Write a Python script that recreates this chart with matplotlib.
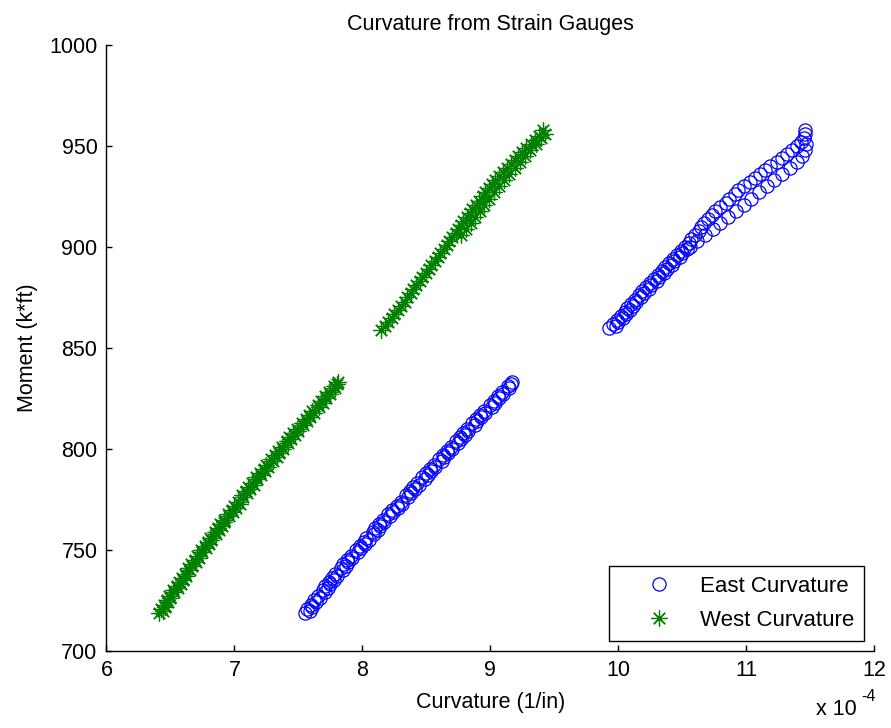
import numpy as np
import matplotlib
matplotlib.use("Agg")
import matplotlib.pyplot as plt

plt.rcParams["font.family"] = ["Liberation Sans", "DejaVu Sans"]

# curvature values are in units of 1e-4 (1/in), moments in k*ft

#----East gauge, first loading----
east_m1 = [719, 721, 723, 725, 727, 730, 732, 734, 736, 738, 741, 743, 745, 747, 750, 752, 754, 756,
           759, 761, 763, 765, 768, 770, 772, 774, 777, 779, 781, 783, 786, 788, 790, 792, 795, 797,
           799, 801, 804, 806, 808, 810, 813, 815, 817, 819, 822, 824, 826, 828, 831, 833]
east_k1 = [7.55, 7.57, 7.60, 7.62, 7.65, 7.69, 7.71, 7.74, 7.76, 7.79, 7.83, 7.85, 7.88, 7.91, 7.95, 7.98, 8.01, 8.03,
           8.08, 8.10, 8.13, 8.16, 8.20, 8.23, 8.27, 8.30, 8.34, 8.37, 8.40, 8.43, 8.47, 8.50, 8.53, 8.56, 8.60, 8.63,
           8.66, 8.69, 8.73, 8.76, 8.79, 8.82, 8.86, 8.89, 8.92, 8.95, 9.00, 9.03, 9.06, 9.09, 9.14, 9.17]
# second set of readings over the same range
east_m1r = [720, 722, 724, 726, 729, 731, 733, 735, 737, 740, 742, 744, 746, 749, 751, 753, 755, 758, 760,
            762, 764, 767, 769, 771, 773, 776, 778, 780, 782, 785, 787, 789, 791, 794, 796, 798, 800, 803,
            805, 807, 809, 812, 814, 816, 818, 821, 823, 825, 827, 830, 832]
east_k1r = [7.59, 7.61, 7.64, 7.67, 7.71, 7.73, 7.75, 7.78, 7.80, 7.85, 7.87, 7.89, 7.92, 7.97, 7.99, 8.02, 8.05,
            8.09, 8.12, 8.14, 8.17, 8.22, 8.24, 8.28, 8.31, 8.36, 8.38, 8.41, 8.44, 8.49, 8.51, 8.54, 8.57, 8.62,
            8.64, 8.67, 8.70, 8.75, 8.77, 8.80, 8.83, 8.88, 8.90, 8.93, 8.96, 9.01, 9.04, 9.07, 9.10, 9.15, 9.16]

#----East gauge, second loading (up and back)----
east_m2a = [860, 862, 864, 866, 868, 870, 872, 874, 876, 878, 880, 882, 884, 886, 888, 890, 892, 894, 896, 898,
            900, 902, 904, 906, 908, 910, 912, 914, 916, 918, 920, 922, 924, 926, 928, 930, 932, 934, 936, 938,
            940, 942, 944, 946, 948, 950, 952, 954, 956, 958]
east_k2a = [9.93, 9.96, 9.99, 10.02, 10.05, 10.07, 10.10, 10.13, 10.16, 10.19, 10.22, 10.25, 10.28, 10.31, 10.34,
            10.37, 10.40, 10.43, 10.46, 10.49, 10.52, 10.55, 10.57, 10.60, 10.63, 10.65, 10.67, 10.70, 10.73, 10.76,
            10.80, 10.84, 10.87, 10.91, 10.94, 10.98, 11.03, 11.07, 11.11, 11.15, 11.19, 11.24, 11.28, 11.32, 11.36,
            11.40, 11.43, 11.45, 11.46, 11.46]
east_m2b = [951, 948, 945, 942, 939, 936, 933, 930, 927, 924, 921, 918, 915, 912, 909, 906, 903, 900]
east_k2b = [11.47, 11.46, 11.44, 11.40, 11.34, 11.28, 11.22, 11.16, 11.10, 11.04, 10.98, 10.92, 10.86, 10.80,
            10.74, 10.68, 10.62, 10.56]
east_m2c = [861, 863, 865, 867, 869, 871, 873, 875, 877, 879, 881, 883, 885, 887, 889, 891, 893, 895, 897, 899]
east_k2c = [9.98, 10.00, 10.04, 10.06, 10.09, 10.12, 10.14, 10.18, 10.20, 10.24, 10.26, 10.30, 10.32, 10.36,
            10.38, 10.42, 10.44, 10.48, 10.50, 10.54]

#----West gauge, first loading----
west_m1 = east_m1
west_k1 = [6.41, 6.43, 6.45, 6.47, 6.49, 6.52, 6.55, 6.57, 6.59, 6.61, 6.64, 6.66, 6.69, 6.71, 6.74, 6.77, 6.79, 6.81,
           6.85, 6.87, 6.89, 6.92, 6.95, 6.98, 7.00, 7.03, 7.06, 7.09, 7.11, 7.14, 7.17, 7.20, 7.23, 7.25, 7.29, 7.32,
           7.34, 7.37, 7.41, 7.43, 7.46, 7.49, 7.53, 7.56, 7.58, 7.61, 7.65, 7.68, 7.71, 7.74, 7.78, 7.81]
west_m1r = east_m1r
west_k1r = [6.44, 6.46, 6.48, 6.50, 6.53, 6.56, 6.58, 6.60, 6.62, 6.65, 6.67, 6.70, 6.72, 6.75, 6.78, 6.80, 6.82,
            6.86, 6.88, 6.90, 6.92, 6.96, 6.99, 7.01, 7.04, 7.07, 7.10, 7.12, 7.15, 7.18, 7.21, 7.24, 7.26, 7.30,
            7.33, 7.35, 7.38, 7.42, 7.44, 7.47, 7.50, 7.54, 7.57, 7.59, 7.62, 7.66, 7.69, 7.72, 7.75, 7.79, 7.80]

#----West gauge, second loading (up and back)----
west_m2a = [859, 861, 863, 865, 867, 869, 871, 873, 875, 877, 879, 881, 883, 885, 887, 889, 891, 893, 895, 897,
            899, 901, 903, 905, 907, 909, 911, 913, 915, 917, 919, 921, 923, 925, 927, 929, 931, 933, 935, 937,
            939, 941, 943, 945, 947, 949, 951, 953, 955, 958]
west_k2a = [8.15, 8.18, 8.20, 8.23, 8.25, 8.28, 8.30, 8.33, 8.35, 8.38, 8.40, 8.42, 8.45, 8.47, 8.50, 8.52, 8.54,
            8.57, 8.59, 8.61, 8.64, 8.66, 8.68, 8.70, 8.73, 8.75, 8.77, 8.79, 8.82, 8.84, 8.86, 8.89, 8.91, 8.94,
            8.96, 8.99, 9.01, 9.04, 9.07, 9.10, 9.13, 9.16, 9.19, 9.22, 9.25, 9.28, 9.32, 9.35, 9.38, 9.41]
west_m2b = [956, 954, 951, 948, 945, 942, 939, 936, 933, 930, 927, 924, 921, 918, 915, 912, 909, 906]
west_k2b = [9.43, 9.40, 9.36, 9.31, 9.27, 9.23, 9.19, 9.15, 9.11, 9.07, 9.03, 8.99, 8.95, 8.92, 8.88, 8.85,
            8.81, 8.77]

east_k = east_k1 + east_k1r + east_k2a + east_k2b + east_k2c
east_m = east_m1 + east_m1r + east_m2a + east_m2b + east_m2c
west_k = west_k1 + west_k1r + west_k2a + west_k2b
west_m = west_m1 + west_m1r + west_m2a + west_m2b

FS = 15.5

fig = plt.figure(figsize=(8.91, 7.28), dpi=100)
ax = fig.add_axes([0.1195, 0.1058, 0.8614, 0.8324])

ax.plot(east_k, east_m, linestyle="none", marker="o", markersize=9.5, markerfacecolor="none",
        markeredgecolor="#0000ff", markeredgewidth=0.9, label="East Curvature")
ax.plot(west_k, west_m, linestyle="none", marker=(8, 2, 0), markersize=11.5,
        markeredgecolor="#007f00", markeredgewidth=0.9, color="#007f00", label="West Curvature")

ax.set_xlim(6, 12)
ax.set_ylim(700, 1000)
ax.set_xticks([6, 7, 8, 9, 10, 11, 12])
ax.set_yticks([700, 750, 800, 850, 900, 950, 1000])
ax.spines["top"].set_visible(False)
ax.spines["right"].set_visible(False)
for s in ("left", "bottom"):
    ax.spines[s].set_linewidth(1.0)
ax.tick_params(direction="in", length=4.5, width=1.0, labelsize=FS, pad=6.5)

ax.set_title("Curvature from Strain Gauges", fontsize=FS, pad=11)
ax.set_xlabel("Curvature (1/in)", fontsize=FS, labelpad=8)
ax.set_ylabel("Moment (k*ft)", fontsize=FS, labelpad=8)

# exponent for the x axis, MATLAB style
ax.text(0.925, -0.097, "x 10", transform=ax.transAxes, fontsize=FS, ha="left", va="center")
ax.text(0.984, -0.075, "-4", transform=ax.transAxes, fontsize=FS * 0.75, ha="left", va="center")

leg = ax.legend(loc="lower right", bbox_to_anchor=(0.987, 0.0165), borderaxespad=0, fontsize=16,
                frameon=True, fancybox=False, framealpha=1, edgecolor="black", handlelength=3.6,
                handletextpad=0.05, labelspacing=0.58, borderpad=0.45)
leg.get_frame().set_linewidth(1.0)

fig.savefig("out.png", dpi=100)
